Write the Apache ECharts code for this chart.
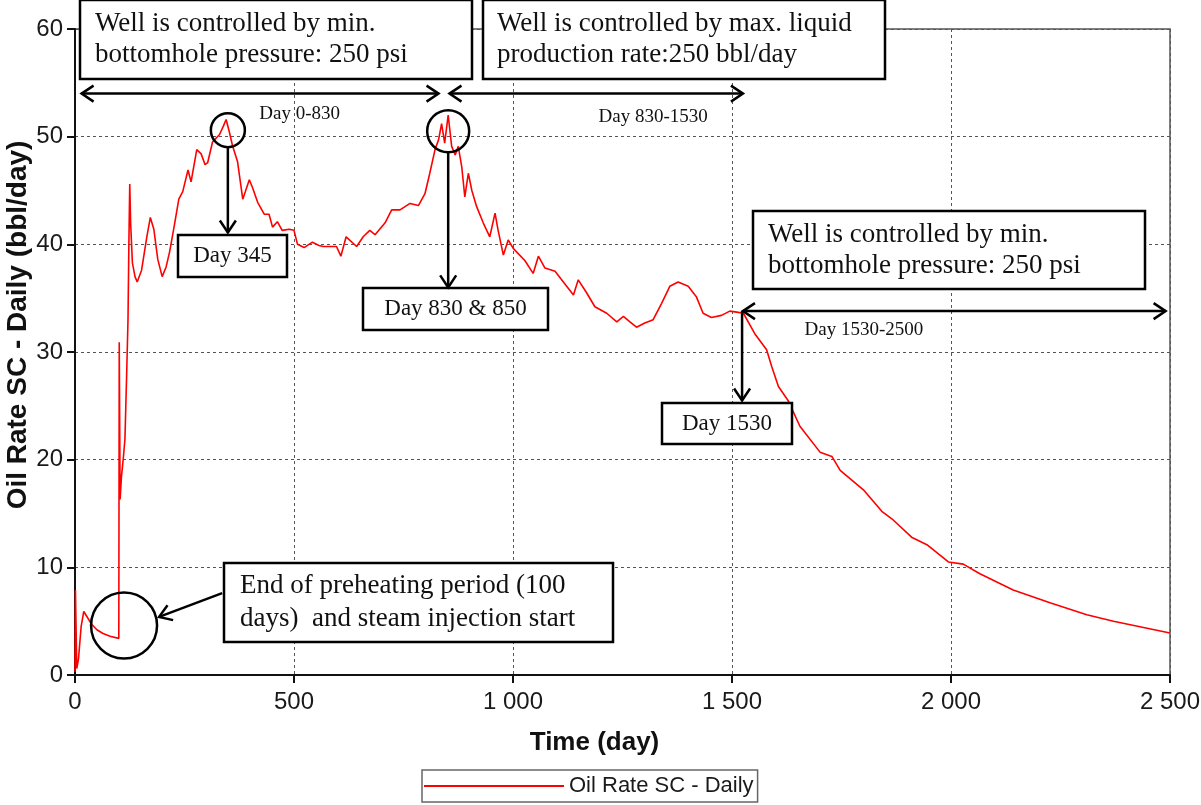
<!DOCTYPE html>
<html>
<head>
<meta charset="utf-8">
<title>Oil Rate SC - Daily</title>
<script src="https://cdn.jsdelivr.net/npm/echarts@6/dist/echarts.min.js"></script>
<style>
  html, body { margin: 0; padding: 0; background: #fff; }
  #chart { width: 1201px; height: 805px; }
</style>
</head>
<body>
<div id="chart"></div>
<script>
// time in days
const days = [0, 1, 4, 8, 14, 20, 26, 38, 50, 64, 80, 100, 101, 103, 106, 110, 114, 118, 121, 123, 125, 127,
  131, 137, 142, 152, 164, 172, 180, 189, 199, 208, 216, 227, 237, 246, 258, 265, 278, 288, 297, 303, 314,
  330, 339, 345, 352, 360, 371, 383, 389, 398, 405, 417, 432, 443, 451, 462, 473, 489, 500, 508, 523, 542,
  557, 567, 597, 607, 619, 643, 658, 673, 685, 708, 723, 742, 765, 784, 799, 810, 822, 830, 837, 844, 852,
  860, 868, 875, 883, 890, 898, 906, 917, 932, 947, 959, 966, 978, 989, 1001, 1027, 1046, 1058, 1073, 1096,
  1115, 1138, 1149, 1168, 1187, 1214, 1237, 1252, 1267, 1282, 1301, 1320, 1339, 1358, 1377, 1400, 1419,
  1434, 1453, 1476, 1495, 1511, 1526, 1552, 1579, 1591, 1606, 1628, 1655, 1701, 1728, 1747, 1800, 1842,
  1868, 1910, 1945, 1994, 2028, 2066, 2142, 2226, 2310, 2371, 2500]
// oil rate sc - daily (bbl/day)
const oilRate = [0.3, 7.9, 0.6, 1.5, 4.5, 5.9, 5.5, 4.7, 4.2, 3.85, 3.6, 3.4, 30.9, 16.3, 18.4, 20, 21.9, 28, 33, 40, 45.6, 42,
  38.3, 37, 36.5, 37.6, 40.7, 42.5, 41.4, 38.6, 37, 37.9, 39.3, 41.8, 44.2, 44.9, 46.9, 45.8, 48.8, 48.4, 47.4, 47.6, 49.5,
  50.2, 51, 51.6, 50.5, 49.1, 47.7, 44.2, 44.9, 46, 45.3, 43.9, 42.8, 42.8, 41.6, 42.1, 41.3, 41.4, 41.3, 40, 39.7, 40.2,
  39.9, 39.8, 39.8, 38.9, 40.7, 39.8, 40.7, 41.3, 40.9, 42, 43.2, 43.2, 43.8, 43.6, 44.7, 46.6, 48.8, 49.7, 51.2, 49.4, 52,
  49.1, 48.3, 49.1, 47.2, 44.4, 46.6, 45, 43.5, 42, 40.7, 42.9, 41.3, 39, 40.4, 39.6, 38.5, 37.3, 38.9, 37.8, 37.5,
  36.5, 35.3, 36.7, 35.5, 34.2, 33.6, 32.8, 33.3, 32.8, 32.3, 32.7, 33, 34.5, 36.1, 36.5, 36.1, 35.1,
  33.6, 33.2, 33.4, 33.8, 33.7, 33.6, 31.7, 30.2, 28.6, 26.8, 25.5, 23.1, 20.7, 20.3, 19, 17.2, 15.2,
  14.4, 12.8, 12.1, 10.5, 10.3, 9.4, 7.9, 6.7, 5.6, 5.0, 3.9]

const seriesName = 'Oil Rate SC - Daily'

const chart = echarts.init(document.getElementById('chart'))

const labelFont = { fontFamily: 'Liberation Sans', fontSize: 24, color: '#1a1a1a' }
const gridLine = { show: true, lineStyle: { type: [3, 3], color: '#555', width: 1 } }

const option = {
  animation: false,
  backgroundColor: '#fff',
  grid: {
    left: 75, right: 31, top: 29, bottom: 130,
    outerBoundsMode: 'none', containLabel: false,
    show: true, borderColor: '#555', borderWidth: 1.5
  },
  legend: {
    data: [seriesName],
    left: 422, top: 770,
    icon: 'rect', itemWidth: 140, itemHeight: 2, itemGap: 4,
    padding: [5, 4, 5, 2],
    borderColor: '#666', borderWidth: 1.5,
    textStyle: { fontFamily: 'Liberation Sans', fontSize: 22, color: '#1a1a1a' }
  },
  xAxis: {
    type: 'value', min: 0, max: 2500, interval: 500,
    name: 'Time (day)', nameLocation: 'middle', nameGap: 55, nameMoveOverlap: false,
    nameTextStyle: { fontFamily: 'Liberation Sans', fontSize: 26, fontWeight: 'bold', color: '#111', padding: [0, 56, 0, 0] },
    axisLine: { show: true, onZero: false, lineStyle: { color: '#111', width: 2 } },
    axisTick: { show: true, inside: false, length: 8, lineStyle: { color: '#111', width: 2 } },
    axisLabel: Object.assign({ margin: 15, formatter: v => String(v).replace(/\B(?=(\d{3})+(?!\d))/g, ' ') }, labelFont),
    splitLine: gridLine
  },
  yAxis: {
    type: 'value', min: 0, max: 60, interval: 10,
    name: 'Oil Rate SC - Daily (bbl/day)', nameLocation: 'middle', nameGap: 43, nameRotate: 90, nameMoveOverlap: false,
    nameTextStyle: { fontFamily: 'Liberation Sans', fontSize: 28, fontWeight: 'bold', color: '#111', padding: [0, 0, 0, 54] },
    axisLine: { show: true, lineStyle: { color: '#111', width: 2 } },
    axisTick: { show: true, inside: false, length: 8, lineStyle: { color: '#111', width: 2 } },
    axisLabel: Object.assign({ margin: 12 }, labelFont),
    splitLine: gridLine
  },
  series: [
    {
      name: seriesName,
      type: 'line',
      showSymbol: false,
      data: days.map((d, i) => [d, oilRate[i]]),
      lineStyle: { color: '#ff0000', width: 1.6 },
      itemStyle: { color: '#ff0000' },
      z: 3
    }
  ]
}

chart.setOption(option)

// ---- annotations ----
const px = (d, v) => chart.convertToPixel({ gridIndex: 0 }, [d, v])
const black = '#000'
const serif = 'Liberation Serif'
const elems = []

function line(a, b, w) {
  elems.push({ type: 'line', z: 100, shape: { x1: a[0], y1: a[1], x2: b[0], y2: b[1] }, style: { stroke: black, lineWidth: w || 2.5 } })
}
function head(tip, from) {
  const dx = tip[0] - from[0], dy = tip[1] - from[1]
  const len = Math.sqrt(dx * dx + dy * dy)
  const ux = dx / len, uy = dy / len
  const L = 12, W = 8
  elems.push({
    type: 'polyline', z: 100,
    shape: { points: [[tip[0] - ux * L - uy * W, tip[1] - uy * L + ux * W], tip, [tip[0] - ux * L + uy * W, tip[1] - uy * L - ux * W]] },
    style: { stroke: black, lineWidth: 2.5, fill: null }
  })
}
function arrow(a, b) { line(a, b); head(b, a) }
function dblArrow(a, b) { line(a, b); head(b, a); head(a, b) }
function circle(c, r) {
  elems.push({ type: 'circle', z: 100, shape: { cx: c[0], cy: c[1], r: r }, style: { stroke: black, lineWidth: 2.5, fill: null } })
}
function box(x1, y1, x2, y2, text, size, lh, tx) {
  elems.push({ type: 'rect', z: 99, shape: { x: x1, y: y1, width: x2 - x1, height: y2 - y1 }, style: { stroke: black, lineWidth: 2.5, fill: '#fff' } })
  elems.push({
    type: 'text', z: 101,
    x: tx == null ? (x1 + x2) / 2 : tx, y: (y1 + y2) / 2,
    style: { text: text, font: size + 'px "' + serif + '"', fill: '#111', align: tx == null ? 'center' : 'left', verticalAlign: 'middle', lineHeight: lh || size }
  })
}
function label(p, text, size, dy) {
  elems.push({ type: 'text', z: 101, x: p[0], y: p[1] + dy, style: { text: text, font: size + 'px "' + serif + '"', fill: '#111', align: 'center', verticalAlign: 'middle' } })
}

// period spans
dblArrow(px(15, 54), px(830, 54))
label(px(513, 54), 'Day 0-830', 19, 20)
dblArrow(px(855, 54), px(1525, 54))
label(px(1320, 54), 'Day 830-1530', 19, 23)
dblArrow(px(1525, 33.8), px(2490, 33.8))
label(px(1801, 33.8), 'Day 1530-2500', 19, 19)

// peaks
circle(px(349, 50.6), 17)
arrow(px(349, 49.1), px(349, 41.1))
circle(px(852, 50.5), 21)
arrow(px(852, 48.5), px(852, 36.0))
arrow(px(1523, 33.8), px(1523, 25.5))

// preheating
circle(px(112, 4.6), 33)
arrow(px(336, 7.6), px(192, 5.4))

// text boxes
box(80, 0, 472, 79, 'Well is controlled by min.\nbottomhole pressure: 250 psi', 27, 31, 95)
box(483, 0, 885, 79, 'Well is controlled by max. liquid\nproduction rate:250 bbl/day', 27, 31, 497)
box(753, 211, 1145, 289, 'Well is controlled by min.\nbottomhole pressure: 250 psi', 27, 31, 768)
box(178, 235, 287, 277, 'Day 345', 23)
box(363, 288, 548, 330, 'Day 830 & 850', 23)
box(662, 403, 792, 444, 'Day 1530', 23)
box(224, 563, 613, 642, 'End of preheating period (100\ndays)  and steam injection start', 27, 33, 240)

chart.setOption({ graphic: elems })
</script>
</body>
</html>
